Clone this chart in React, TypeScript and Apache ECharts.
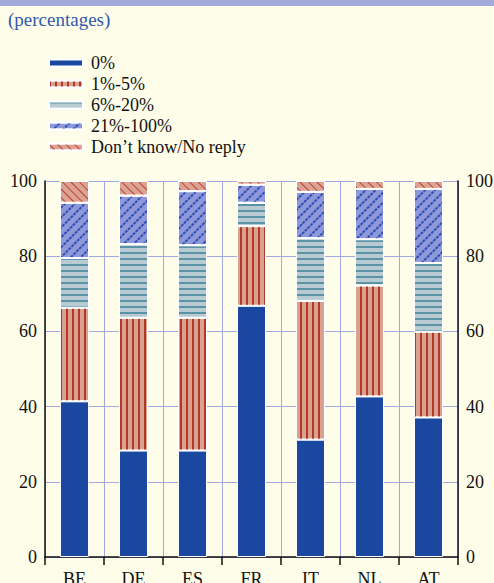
import React, { useEffect, useRef } from "react";
import * as echarts from "echarts";

const categories = ["BE", "DE", "ES", "FR", "IT", "NL", "AT"];
const seriesNames = ["0%", "1%-5%", "6%-20%", "21%-100%", "Don\u2019t know/No reply"];
const zero = [41.4, 28.3, 28.3, 66.8, 31.2, 42.7, 37.1];
const oneToFive = [24.9, 35.3, 35.3, 21.2, 36.9, 29.5, 22.8];
const sixToTwenty = [13.2, 19.6, 19.3, 6.2, 16.7, 12.3, 18.3];
const twentyOneToHundred = [14.7, 12.9, 14.4, 4.8, 12.3, 13.4, 19.7];
const dontKnow = [5.8, 3.9, 2.7, 1.0, 2.9, 2.1, 2.1];
const yTicks = [0, 20, 40, 60, 80, 100];

const FONT = "Liberation Serif";

export default function App() {
  const ref = useRef<HTMLDivElement>(null);
  useEffect(() => {
    if (!ref.current) return;
    const chart = echarts.init(ref.current, null, { renderer: "svg" });
    const values = [zero, oneToFive, sixToTwenty, twentyOneToHundred, dontKnow];
    const styles: any[] = [
      { color: "#1a47a0" },
      {
        color: "#d9a28e",
        decal: { symbol: "rect", symbolSize: 1, color: "#b3382a", dashArrayX: [1.3, 3.7], dashArrayY: [1, 0], rotation: 0 },
      },
      {
        color: "#b9cbd2",
        decal: { symbol: "rect", symbolSize: 1, color: "#5b93a6", dashArrayX: [1, 0], dashArrayY: [1.2, 3.8], rotation: 0 },
      },
      {
        color: "#8f99d9",
        decal: { symbol: "rect", symbolSize: 1, color: "#2d4fb5", dashArrayX: [3, 1], dashArrayY: [1.2, 4.5], rotation: -Math.PI / 4 },
      },
      {
        color: "#dba394",
        decal: { symbol: "rect", symbolSize: 1, color: "#c0402f", dashArrayX: [1, 0], dashArrayY: [1, 4.5], rotation: Math.PI / 4 },
      },
    ];
    const txt = { fontFamily: FONT, fontSize: 18, color: "#111" };
    chart.setOption({
      animation: false,
      backgroundColor: "#fefde9",
      textStyle: { fontFamily: FONT },
      graphic: [
        { type: "rect", left: 0, top: 0, shape: { width: 494, height: 6 }, style: { fill: "#a3a9d8" } },
        {
          type: "text",
          left: 8,
          top: 10,
          style: { text: "(percentages)", fill: "#3458b0", fontFamily: FONT, fontSize: 19 },
        },
      ],
      legend: {
        orient: "vertical",
        left: 43,
        top: 49,
        itemWidth: 34,
        itemHeight: 7,
        itemGap: 3,
        icon: "rect",
        textStyle: { ...txt, padding: [0, 0, 0, 3] },
        data: seriesNames,
      },
      grid: { left: 45, right: 36, top: 181, bottom: 26, outerBoundsMode: "none", containLabel: false },
      xAxis: {
        type: "category",
        data: categories,
        offset: 3,
        axisLine: { show: true, lineStyle: { color: "#111", width: 1.5 } },
        axisTick: { show: true, length: 8, lineStyle: { color: "#111", width: 1.5 } },
        axisLabel: { ...txt, margin: 10 },
        splitLine: { show: true, lineStyle: { color: "#a3a9e0", width: 1 } },
      },
      yAxis: [
        {
          type: "value",
          min: 0,
          max: 100,
          interval: 20,
          axisLine: { show: true, lineStyle: { color: "#111", width: 1.5 } },
          axisTick: { show: false },
          axisLabel: { ...txt, margin: 8 },
          splitLine: { show: true, lineStyle: { color: "#a3a9e0", width: 1 } },
        },
        {
          type: "value",
          position: "right",
          min: 0,
          max: 100,
          interval: 20,
          axisLine: { show: true, lineStyle: { color: "#111", width: 1.5 } },
          axisTick: { show: false },
          axisLabel: { ...txt, margin: 8 },
          splitLine: { show: false },
        },
      ],
      series: seriesNames.map((name, i) => ({
        name,
        type: "bar",
        stack: "total",
        barWidth: 29,
        data: values[i],
        itemStyle: { ...styles[i], borderColor: "#ffffff", borderWidth: 1 },
        emphasis: { disabled: true },
      })),
    });
    return () => chart.dispose();
  }, []);
  return <div ref={ref} style={{ width: 494, height: 583, position: "absolute", left: 0, top: 0 }} />;
}
